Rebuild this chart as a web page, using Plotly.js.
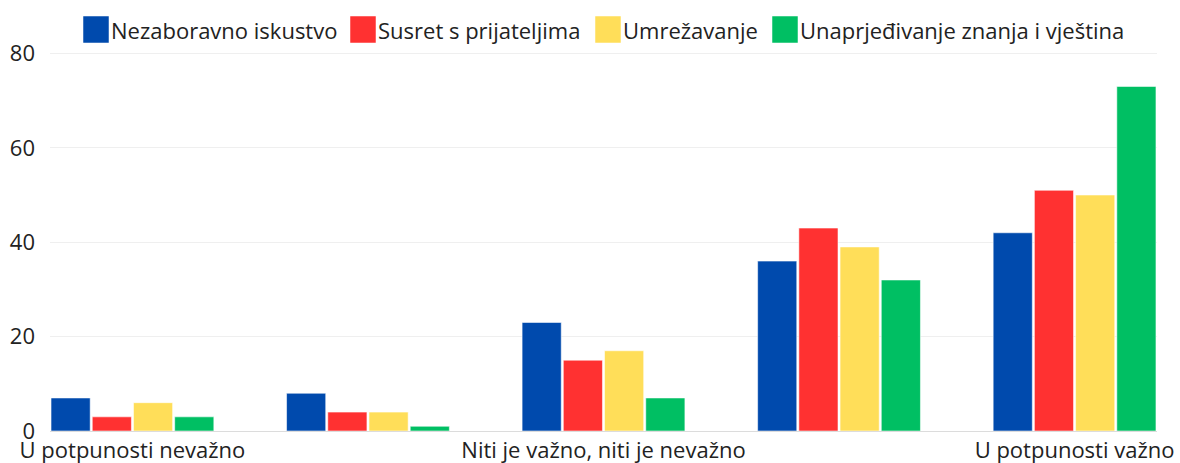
<!DOCTYPE html>
<html>
<head>
<meta charset="utf-8">
<script src="https://cdn.plot.ly/plotly-3.0.1.min.js"></script>
<style>html,body{margin:0;padding:0;background:#fff;}#chart{width:1180px;height:463px;}</style>
</head>
<body>
<div id="chart"></div>
<script>
// Data
const xPositions = [1, 2, 3, 4, 5];
const tickPositions = [1, 3, 5];
const tickLabels = ["U potpunosti nevažno", "Niti je važno, niti je nevažno", "U potpunosti važno"];
const seriesNames = ["Nezaboravno iskustvo", "Susret s prijateljima", "Umrežavanje", "Unaprjeđivanje znanja i vještina"];
const nezaboravno = [7, 8, 23, 36, 42];
const susret = [3, 4, 15, 43, 51];
const umrezavanje = [6, 4, 17, 39, 50];
const unaprjedivanje = [3, 1, 7, 32, 73];
const seriesValues = [nezaboravno, susret, umrezavanje, unaprjedivanje];
const colors = ["#004AAD", "#FF3131", "#FFDE59", "#00BF63"];

const W = 1180, H = 463, ML = 50, MR = 23, MT = 52, MB = 32;
const plotW = W - ML - MR;
const plotH = H - MT - MB;

const traces = seriesValues.map((vals, i) => ({
  type: "bar",
  name: seriesNames[i],
  x: xPositions,
  y: vals,
  marker: { color: colors[i], line: { color: "rgba(255,255,255,0.55)", width: 1 } },
  showlegend: false,
  hoverinfo: "x+y+name"
}));

// custom legend (large swatches), pixel positions converted to paper coords
const legendX = [83, 350, 595, 772];
const px = v => (v - ML) / plotW;
const py = v => 1 + (MT - v) / plotH;
const shapes = [];
const annotations = [];
seriesNames.forEach((n, i) => {
  shapes.push({
    type: "rect", xref: "paper", yref: "paper",
    x0: px(legendX[i]), x1: px(legendX[i] + 26),
    y0: py(43), y1: py(16),
    fillcolor: colors[i], line: { color: "rgba(255,255,255,0.5)", width: 1 }
  });
  annotations.push({
    xref: "paper", yref: "paper",
    x: px(legendX[i] + 26), y: py(29.5),
    xanchor: "left", yanchor: "middle",
    text: n, showarrow: false,
    font: { family: "Open Sans, sans-serif", size: 22, color: "#222" }
  });
});

const layout = {
  width: W, height: H,
  margin: { l: ML, r: MR, t: MT, b: MB, pad: 0 },
  paper_bgcolor: "#fff", plot_bgcolor: "#fff",
  font: { family: "Open Sans, sans-serif", size: 22, color: "#222" },
  barmode: "group",
  bargap: 0.3,
  bargroupgap: 0.05,
  xaxis: {
    range: [0.65, 5.35],
    tickmode: "array",
    tickvals: tickPositions,
    ticktext: tickLabels,
    showgrid: false,
    zeroline: false,
    showline: true,
    linecolor: "#dcdcdc",
    linewidth: 1,
    ticks: "",
    tickfont: { size: 22, color: "#222" },
    fixedrange: true
  },
  yaxis: {
    range: [0, 80.3],
    tickvals: [0, 20, 40, 60, 80],
    showgrid: true,
    gridcolor: "#efefef",
    gridwidth: 1,
    zeroline: false,
    ticks: "",
    ticklabelstandoff: 14,
    tickfont: { size: 22, color: "#222" },
    fixedrange: true
  },
  shapes: shapes,
  annotations: annotations
};

Plotly.newPlot("chart", traces, layout, { displayModeBar: false, staticPlot: true });
</script>
</body>
</html>
